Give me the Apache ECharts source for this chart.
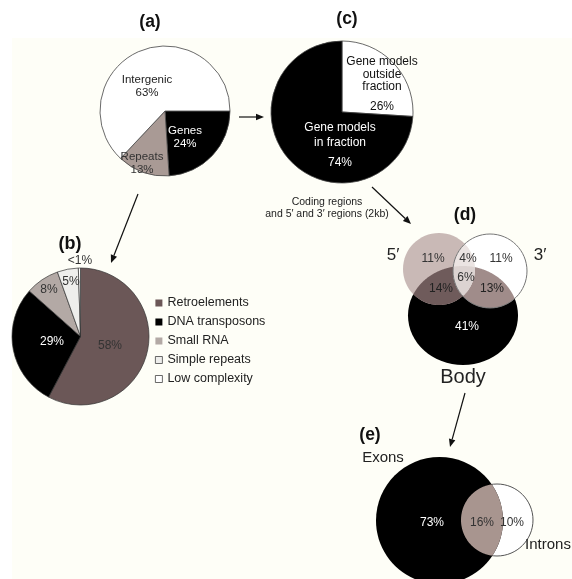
<!DOCTYPE html>
<html><head><meta charset="utf-8">
<script src="https://cdn.jsdelivr.net/npm/echarts@6/dist/echarts.min.js"></script>
<style>html,body{margin:0;padding:0;background:#fff}#c{width:572px;height:579px}</style>
</head><body><div id="c"></div>
<script>
// ---------------- DATA ----------------
const aNames = ['Genes', 'Repeats', 'Intergenic'];
const aValues = [24, 13, 63];

const cNames = ['Gene models outside fraction', 'Gene models in fraction'];
const cValues = [26, 74];

const bNames = ['Retroelements', 'DNA transposons', 'Small RNA', 'Simple repeats', 'Low complexity'];
const bValues = [58, 29, 8, 5, 0.5];

const dNames = ['5′ only', '5′ ∩ 3′', '3′ only', '5′ ∩ 3′ ∩ Body', '5′ ∩ Body', '3′ ∩ Body', 'Body only'];
const dValues = [11, 4, 11, 6, 14, 13, 41];

const eNames = ['Exons only', 'Exons ∩ Introns', 'Introns only'];
const eValues = [73, 16, 10];

// ---------------- LAYOUT / STYLE ----------------
const FONT = '"Liberation Sans", Arial, sans-serif';
const aColors = ['#000000', '#a99a95', '#ffffff'];
const aText = ['#ffffff', '#333333', '#222222'];
const aLabelXY = [[185, 137.5], [142, 163], [147, 86]];

const cColors = ['#ffffff', '#000000'];
const cLabelXY = [[382, 88], [340, 148]];

const bColors = ['#6b5757', '#000000', '#b3a9a5', '#eeeeec', '#ffffff'];
const bText = ['#333333', '#ffffff', '#333333', '#333333', '#333333'];
const bLabelXY = [[110, 346], [52, 342], [49, 290], [71, 282], [80, 261]];
const bLegendBorder = [0, 0, 0, 0.8, 0.8];

// Venn (d) shapes
const FIVE = {cx: 439, cy: 269, rx: 36, ry: 36};
const THREE = {cx: 490, cy: 271, rx: 37, ry: 37};
const BODY = {cx: 463, cy: 315.5, rx: 55, ry: 49.5};
const dLabelXY = [[433, 259], [468, 259], [501, 259], [466, 278], [441, 289], [492, 289], [467, 327]];
const dText = ['#333', '#333', '#333', '#333', '#222', '#222', '#fff'];

// Venn (e) shapes
const EXONS = {cx: 439.5, cy: 520.5, rx: 63.5, ry: 63.5};
const INTRONS = {cx: 497, cy: 520, rx: 36, ry: 36};
const eLabelXY = [[432, 523], [482, 523], [512, 523]];
const eText = ['#fff', '#333', '#333'];

// ---------------- HELPERS ----------------
function inside(e, p) {
  const dx = (p[0] - e.cx) / e.rx, dy = (p[1] - e.cy) / e.ry;
  return dx * dx + dy * dy <= 1 + 1e-6;
}
function region(list) {
  const N = 720, pts = [];
  list.forEach((e, i) => {
    for (let k = 0; k < N; k++) {
      const t = k / N * Math.PI * 2;
      const p = [e.cx + e.rx * Math.cos(t), e.cy + e.ry * Math.sin(t)];
      if (list.every((o, j) => j === i || inside(o, p))) pts.push(p);
    }
  });
  let mx = 0, my = 0;
  pts.forEach(p => { mx += p[0]; my += p[1]; });
  mx /= pts.length; my /= pts.length;
  pts.sort((p, q) => Math.atan2(p[1] - my, p[0] - mx) - Math.atan2(q[1] - my, q[0] - mx));
  return pts;
}
function ell(e, style, z) {
  return {type: 'ellipse', silent: true, z: z, shape: {cx: e.cx, cy: e.cy, rx: e.rx, ry: e.ry}, style: style};
}
function poly(pts, fill, z) {
  return {type: 'polygon', silent: true, z: z, shape: {points: pts}, style: {fill: fill}};
}
function txt(s, x, y, font, fill, z) {
  return {type: 'text', silent: true, z: z || 20, style: {text: s, x: x, y: y, font: font, fill: fill, align: 'center', verticalAlign: 'middle'}};
}
function arrow(x1, y1, x2, y2) {
  const a = Math.atan2(y2 - y1, x2 - x1), L = 8, W = 3.3;
  const bx = x2 - L * Math.cos(a), by = y2 - L * Math.sin(a);
  return [
    {type: 'line', silent: true, z: 15, shape: {x1: x1, y1: y1, x2: bx, y2: by}, style: {stroke: '#111', lineWidth: 1.2}},
    {type: 'polygon', silent: true, z: 15, shape: {points: [[x2, y2], [bx - W * Math.sin(a), by + W * Math.cos(a)], [bx + W * Math.sin(a), by - W * Math.cos(a)]]}, style: {fill: '#111'}}
  ];
}

// ---------------- GRAPHICS ----------------
const g = [];
g.push({type: 'rect', silent: true, z: -5, shape: {x: 0, y: 0, width: 572, height: 38}, style: {fill: '#ffffff'}});
g.push({type: 'rect', silent: true, z: -5, shape: {x: 0, y: 0, width: 12, height: 579}, style: {fill: '#ffffff'}});

// titles
g.push(txt('(a)', 150, 22, 'bold 17.5px ' + FONT, '#111'));
g.push(txt('(c)', 347, 19, 'bold 17.5px ' + FONT, '#111'));
g.push(txt('(b)', 70, 244, 'bold 18px ' + FONT, '#111'));
g.push(txt('(d)', 465, 215, 'bold 17.5px ' + FONT, '#111'));
g.push(txt('(e)', 370, 435, 'bold 17.5px ' + FONT, '#111'));
g.push(txt('Coding regions', 327, 202, '10.5px ' + FONT, '#222'));
g.push(txt('and 5′ and 3′ regions (2kb)', 327, 214, '10.5px ' + FONT, '#222'));

// arrows
g.push(...arrow(239, 117, 264, 117));
g.push(...arrow(138, 194, 111, 263));
g.push(...arrow(372, 187, 411, 224));
g.push(...arrow(465, 393, 450, 447));

// Venn (d)
g.push(ell(BODY, {fill: '#000000'}, 5));
g.push(ell(FIVE, {fill: '#c9b9b6'}, 6));
g.push(ell(THREE, {fill: '#ffffff'}, 7));
g.push(poly(region([FIVE, BODY]), '#6f5b5b', 8));
g.push(poly(region([THREE, BODY]), '#a08c8a', 9));
g.push(poly(region([FIVE, THREE]), '#ebe4e2', 10));
g.push(poly(region([FIVE, THREE, BODY]), '#dcd3d1', 11));
g.push(ell(THREE, {fill: null, stroke: '#777', lineWidth: 1}, 12));
dValues.forEach((v, i) => g.push(txt(v + '%', dLabelXY[i][0], dLabelXY[i][1], '12px ' + FONT, dText[i])));
g.push(txt('5′', 393, 255, '17px ' + FONT, '#222'));
g.push(txt('3′', 540, 255, '17px ' + FONT, '#222'));
g.push(txt('Body', 463, 377, '20px ' + FONT, '#222'));

// Venn (e)
g.push(ell(INTRONS, {fill: '#ffffff', stroke: '#555', lineWidth: 1}, 5));
g.push(ell(EXONS, {fill: '#000000'}, 6));
g.push(poly(region([EXONS, INTRONS]), '#a8958f', 7));
eValues.forEach((v, i) => g.push(txt(v + '%', eLabelXY[i][0], eLabelXY[i][1], '12px ' + FONT, eText[i])));
g.push(txt('Exons', 383, 458, '15px ' + FONT, '#222'));
g.push(txt('Introns', 548, 545, '15px ' + FONT, '#222'));

// ---------------- CHART ----------------
const chart = echarts.init(document.getElementById('c'), null, {renderer: 'canvas'});
chart.setOption({
  animation: false,
  backgroundColor: '#fefef7',
  legend: {
    data: bNames.map((n, i) => ({name: n, itemStyle: {color: bColors[i], borderColor: '#444', borderWidth: bLegendBorder[i]}})),
    orient: 'vertical', left: 155, top: 296, padding: 0,
    itemWidth: 7, itemHeight: 7, itemGap: 5, icon: 'rect', selectedMode: false,
    textStyle: {fontFamily: FONT, fontSize: 12.5, color: '#222', lineHeight: 14}
  },
  graphic: {elements: g},
  series: [
    {
      type: 'pie', center: [165, 111], radius: 65, startAngle: 0, clockwise: true, silent: true,
      avoidLabelOverlap: false, labelLine: {show: false},
      itemStyle: {borderColor: '#444', borderWidth: 0.8},
      label: {show: true, position: 'inside', formatter: '{b}\n{c}%', fontFamily: FONT, fontSize: 11.5, lineHeight: 13},
      labelLayout: p => ({x: aLabelXY[p.dataIndex][0], y: aLabelXY[p.dataIndex][1], align: 'center', verticalAlign: 'middle'}),
      data: aNames.map((n, i) => ({name: n, value: aValues[i], itemStyle: {color: aColors[i]}, label: {color: aText[i]}}))
    },
    {
      type: 'pie', center: [342, 112], radius: 71, startAngle: 90, clockwise: true, silent: true,
      avoidLabelOverlap: false, labelLine: {show: false},
      itemStyle: {borderColor: '#444', borderWidth: 0.8},
      label: {
        show: true, position: 'inside', fontFamily: FONT, fontSize: 12,
        formatter: p => p.dataIndex === 0
          ? '{t|Gene models}\n{t|outside}\n{t|fraction}\n{p|' + p.value + '%}'
          : '{u|Gene models}\n{u|in fraction}\n{q|' + p.value + '%}',
        rich: {
          t: {fontFamily: FONT, fontSize: 12, lineHeight: 12.5, color: '#111'},
          p: {fontFamily: FONT, fontSize: 12, lineHeight: 27, color: '#111'},
          u: {fontFamily: FONT, fontSize: 12, lineHeight: 15, color: '#fff'},
          q: {fontFamily: FONT, fontSize: 12, lineHeight: 25, color: '#fff'}
        }
      },
      labelLayout: p => ({x: cLabelXY[p.dataIndex][0], y: cLabelXY[p.dataIndex][1], align: 'center', verticalAlign: 'middle'}),
      data: cNames.map((n, i) => ({name: n, value: cValues[i], itemStyle: {color: cColors[i]}}))
    },
    {
      type: 'pie', center: [80.5, 336.5], radius: 68.5, startAngle: 90, clockwise: true, silent: true,
      avoidLabelOverlap: false, labelLine: {show: false},
      itemStyle: {borderColor: '#333', borderWidth: 0.7},
      label: {show: true, position: 'inside', fontFamily: FONT, fontSize: 12,
        formatter: p => (p.value < 1 ? '<1' : p.value) + '%'},
      labelLayout: p => ({x: bLabelXY[p.dataIndex][0], y: bLabelXY[p.dataIndex][1], align: 'center', verticalAlign: 'middle'}),
      data: bNames.map((n, i) => ({name: n, value: bValues[i], itemStyle: {color: bColors[i]}, label: {color: bText[i]}}))
    }
  ]
});
</script>
</body></html>
